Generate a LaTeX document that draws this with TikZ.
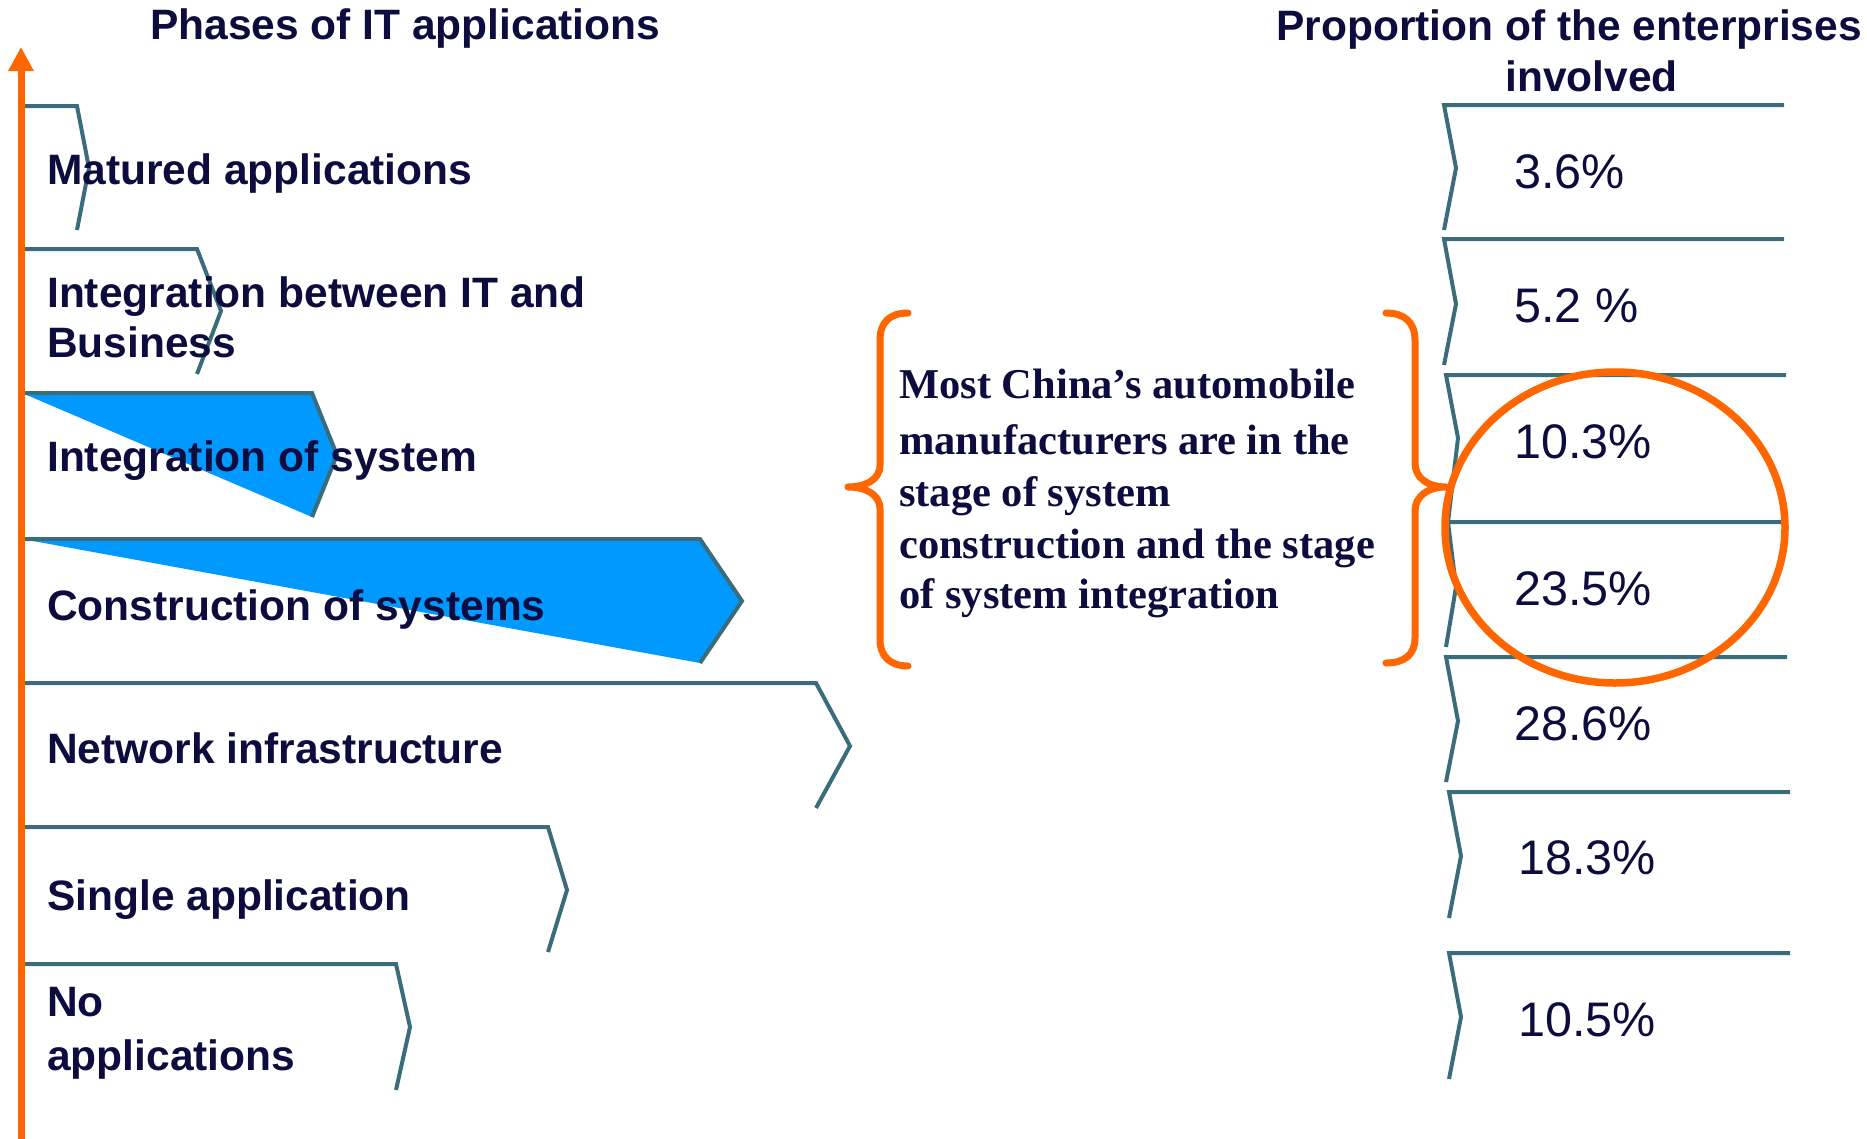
\documentclass[tikz,border=0pt]{standalone}
\usepackage{fontspec}
\newfontfamily\sansf{Liberation Sans}
\newfontfamily\seriff{Liberation Serif}
\usetikzlibrary{arrows.meta}
\definecolor{navy}{RGB}{12,12,62}
\definecolor{tealline}{RGB}{58,108,124}
\definecolor{orangeA}{RGB}{255,102,0}
\definecolor{blueA}{RGB}{0,153,255}
\begin{document}
\begin{tikzpicture}[x=1pt,y=-1pt,
  chev/.style={draw=tealline,line width=4pt,line join=miter,line cap=butt},
  bluefill/.style={fill=blueA,draw=none},
  lbl/.style={anchor=base west,inner sep=0pt,text=navy,font=\sansf\bfseries\fontsize{42.5}{50}\selectfont},
  pct/.style={anchor=base west,inner sep=0pt,text=navy,font=\sansf\fontsize{48.5}{56}\selectfont},
  note/.style={anchor=base west,inner sep=0pt,text=navy,font=\seriff\bfseries\fontsize{42.5}{52}\selectfont},
  brace/.style={draw=orangeA,line width=7pt,line cap=round,line join=round},
  ring/.style={draw=orangeA,line width=7.5pt}]
\useasboundingbox (0,0) rectangle (1867,1138);

% ---------- left chevrons ----------
\draw[chev] (20,106) -- (77,106) -- (89,168) -- (77,230);
\draw[chev] (20,249) -- (197,249) -- (221,311) -- (197,374);
\fill[bluefill] (22,393) -- (312,393) -- (337,455) -- (312,517) -- cycle;
\draw[chev] (20,393) -- (312,393) -- (337,455) -- (312,517);
\fill[bluefill] (22,539) -- (700,539) -- (742,601) -- (700,663) -- cycle;
\draw[chev] (20,539) -- (700,539) -- (742,601) -- (700,663);
\draw[chev] (20,683) -- (816,683) -- (850,746) -- (816,808);
\draw[chev] (20,827) -- (548,827) -- (567,890) -- (548,952);
\draw[chev] (20,964) -- (396,964) -- (410,1027) -- (396,1090);

% ---------- left labels ----------
\node[lbl] (t1)  at (47,184)  {Matured applications};
\node[lbl] (t2a) at (47,307)  {Integration between IT and};
\node[lbl] (t2b) at (47,357)  {Business};
\node[lbl] (t3)  at (47,471)  {Integration of system};
\node[lbl] (t4)  at (47,620)  {Construction of systems};
\node[lbl] (t5)  at (47,763)  {Network infrastructure};
\node[lbl] (t6)  at (47,910)  {Single application};
\node[lbl] (t7a) at (47,1016) {No};
\node[lbl] (t7b) at (47,1070) {applications};

% ---------- titles ----------
\node[lbl] (hl)  at (150,39)  {Phases of IT applications};
\node[lbl] (hr1) at (1276,40) {Proportion of the enterprises};
\node[lbl] (hr2) at (1505,91) {involved};

% ---------- axis arrow ----------
\draw[draw=orangeA,line width=7pt,-{Triangle[length=24pt,width=24pt]}] (21,1140) -- (21,47);

% ---------- right chevrons ----------
\draw[chev] (1784,105) -- (1444,105) -- (1456,168) -- (1444,230);
\draw[chev] (1784,239) -- (1444,239) -- (1456,304) -- (1444,365);
\draw[chev] (1786,375) -- (1446,375) -- (1458,438) -- (1448,522);
\draw[chev] (1786,522) -- (1448,522) -- (1456,587) -- (1446,647);
\draw[chev] (1787,657) -- (1446,657) -- (1458,721) -- (1446,782);
\draw[chev] (1790,792) -- (1449,792) -- (1461,856) -- (1449,918);
\draw[chev] (1790,953) -- (1449,953) -- (1461,1017) -- (1449,1079);

% ---------- percentages ----------
\node[pct] (p1) at (1514,188)  {3.6\%};
\node[pct] (p2) at (1514,322)  {5.2 \%};
\node[pct] (p3) at (1514,458)  {10.3\%};
\node[pct] (p4) at (1514,605)  {23.5\%};
\node[pct] (p5) at (1514,740)  {28.6\%};
\node[pct] (p6) at (1518,874)  {18.3\%};
\node[pct] (p7) at (1518,1036) {10.5\%};

% ---------- highlight ring ----------
\draw[ring] (1615,527.5) ellipse [x radius=170, y radius=155.5];

% ---------- braces ----------
\draw[brace] (908,313) .. controls (890,313) and (880,322) .. (880,340)
  -- (880,465) .. controls (880,480) and (865,487) .. (848,487)
  .. controls (865,487) and (880,494) .. (880,509)
  -- (880,640) .. controls (880,656) and (890,666) .. (908,666);
\draw[brace] (1386,313) .. controls (1404,313) and (1415,322) .. (1415,340)
  -- (1415,463) .. controls (1415,478) and (1428,487) .. (1446,487)
  .. controls (1428,487) and (1415,496) .. (1415,511)
  -- (1415,638) .. controls (1415,655) and (1404,663) .. (1386,663);

% ---------- note ----------
\node[note] (c1) at (899,398) {Most China’s automobile};
\node[note] (c2) at (899,454) {manufacturers are in the};
\node[note] (c3) at (899,506) {stage of system};
\node[note] (c4) at (899,558) {construction and the stage};
\node[note] (c5) at (899,608) {of system integration};
\end{tikzpicture}
\end{document}
